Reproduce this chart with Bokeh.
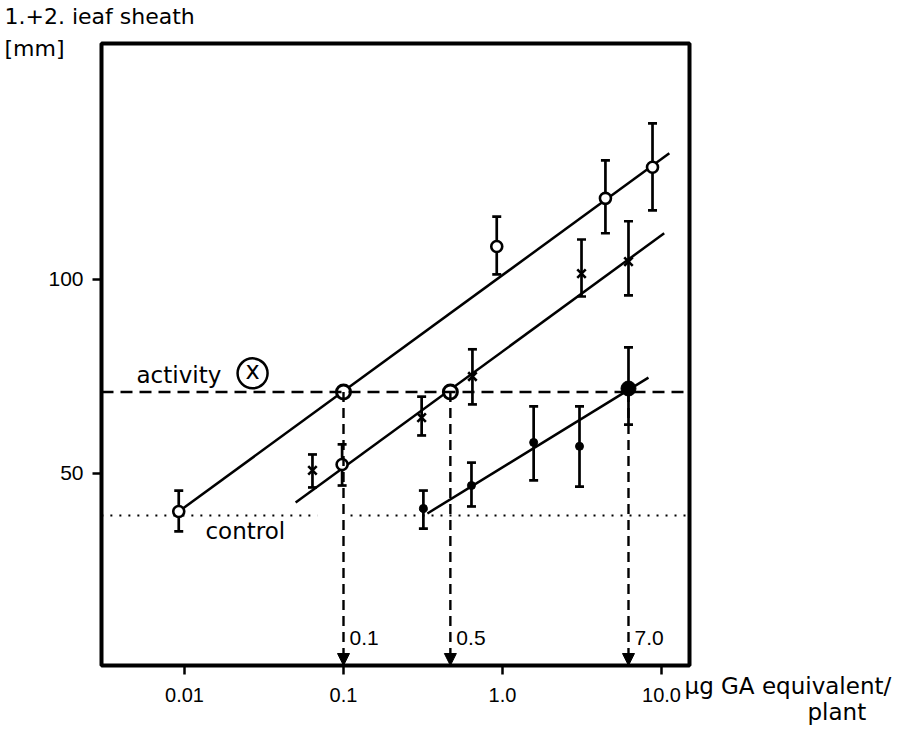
from bokeh.plotting import figure
from bokeh.models import (ColumnDataSource, Whisker, TeeHead, Span, Label, Arrow,
                          NormalHead, FixedTicker, Range1d, Title)
from bokeh.embed import file_html
from bokeh.resources import INLINE

# ---------------- data ----------------
# open circles (upper line, plus one on the middle line)
open_x = [0.0092, 0.098, 0.92, 4.44, 8.78]
open_y = [40.2, 52.3, 108.5, 120.9, 128.9]
open_lo = [35.1, 46.9, 101.3, 111.9, 117.8]
open_hi = [45.6, 57.5, 116.2, 130.7, 140.2]

# crosses (middle line)
cross_x = [0.0638, 0.31, 0.647, 3.14, 6.2]
cross_y = [50.8, 64.4, 75.0, 101.5, 104.6]
cross_lo = [46.4, 59.8, 67.8, 95.6, 95.9]
cross_hi = [54.9, 69.8, 82.0, 110.3, 115.0]

# filled dots (lower line)
dot_x = [0.318, 0.638, 1.57, 3.05]
dot_y = [41.0, 46.9, 58.0, 57.0]
dot_lo = [35.8, 41.5, 48.2, 46.6]
dot_hi = [45.6, 52.8, 67.3, 67.3]
bigdot_x = [6.2]
bigdot_y = [71.9]
bigdot_lo = [62.6]
bigdot_hi = [82.5]

# fitted lines
line_top_x = [0.0092, 11.2]
line_top_y = [40.2, 132.5]
line_mid_x = [0.05, 10.4]
line_mid_y = [42.5, 111.9]
line_low_x = [0.337, 8.28]
line_low_y = [39.7, 74.7]

# reference levels
activity_level = 71.0
control_level = 39.2
control_xs = [[0.003, 0.0686], [0.1107, 15.0]]

# read-offs at activity level
act_x = [0.1, 0.47, 6.2]
act_labels = ["0.1", "0.5", "7.0"]
act_open_x = [0.1, 0.47]

# ticks
x_ticks = [0.01, 0.1, 1, 10]
x_tick_labels = ["0.01", "0.1", "1.0", "10.0"]
y_ticks = [50, 100]

X_START, X_END = 0.003006, 15.0
Y_START, Y_END = 0.52, 160.8

WORD_FONT = "DejaVu Sans"
NUM_FONT = "Liberation Sans"

p = figure(x_axis_type="log",
           x_range=Range1d(X_START, X_END), y_range=Range1d(Y_START, Y_END),
           width=904, height=727,
           min_border_left=101, min_border_right=215,
           min_border_top=43, min_border_bottom=62,
           output_backend="svg", toolbar_location=None)

p.background_fill_color = "white"
p.border_fill_color = "white"
p.outline_line_color = "black"
p.outline_line_width = 4
p.xgrid.grid_line_color = None
p.ygrid.grid_line_color = None

for ax in (p.xaxis, p.yaxis):
    ax.axis_line_color = None
    ax.minor_tick_line_color = None
    ax.major_tick_in = 0
    ax.major_tick_out = 9
    ax.major_tick_line_width = 2.5
    ax.major_tick_line_color = "black"
    ax.major_label_text_font = NUM_FONT
    ax.major_label_text_font_size = "21px"
    ax.major_label_text_color = "black"

p.xaxis.ticker = FixedTicker(ticks=x_ticks)
p.xaxis.major_label_overrides = {t: l for t, l in zip(x_ticks, x_tick_labels)}
p.xaxis.major_label_text_font_size = "20px"
p.xaxis.major_label_standoff = 13
p.yaxis.ticker = FixedTicker(ticks=y_ticks)
p.yaxis.major_label_standoff = 9

# y-axis title (top left, two lines)
p.title.text = "1.+2. ieaf sheath\n[mm]"
p.title.align = "left"
p.title.offset = -97
p.title.vertical_align = "bottom"
p.title.text_font = WORD_FONT
p.title.text_font_size = "22px"
p.title.text_font_style = "normal"
p.title.text_color = "black"
p.title.text_line_height = 1.25
try:
    p.title.standoff = -34
except Exception:
    p.title.standoff = 0

# x-axis unit text (right of the last tick label)
unit_a = Title(text="\u00b5g GA equivalent/", align="left", offset=583, vertical_align="top",
               text_font=WORD_FONT, text_font_size="23px", text_font_style="normal",
               text_color="black")
unit_b = Title(text="plant", align="left", offset=706, vertical_align="top",
               text_font=WORD_FONT, text_font_size="23px", text_font_style="normal",
               text_color="black")
try:
    unit_a.standoff = -64
    unit_b.standoff = -12
except Exception:
    pass
p.add_layout(unit_a, "below")
p.add_layout(unit_b, "below")

# reference lines
p.add_layout(Span(location=activity_level, dimension="width", line_color="black",
                  line_width=2.5, line_dash="12 7"))
p.multi_line(xs=control_xs, ys=[[control_level] * 2] * 2, line_color="black",
             line_width=2, line_dash="2 7")

# fitted lines
for lx, ly in ((line_top_x, line_top_y), (line_mid_x, line_mid_y), (line_low_x, line_low_y)):
    p.line(lx, ly, line_color="black", line_width=2.5)

# drop arrows from activity level to the x axis
arrow_src = ColumnDataSource(dict(x=act_x, ys=[activity_level] * len(act_x),
                                  ye=[Y_START] * len(act_x)))
p.add_layout(Arrow(source=arrow_src, x_start="x", y_start="ys", x_end="x", y_end="ye",
                   line_color="black", line_width=2.4, line_dash="10 6",
                   end=NormalHead(size=12, fill_color="black", line_color="black",
                                  line_width=1)))

# error bars
def whisk(xs, lo, hi):
    src = ColumnDataSource(dict(base=xs, lower=lo, upper=hi))
    w = Whisker(source=src, base="base", lower="lower", upper="upper",
                line_color="black", line_width=2.7,
                upper_head=TeeHead(size=9, line_width=2.7, line_color="black"),
                lower_head=TeeHead(size=9, line_width=2.7, line_color="black"))
    p.add_layout(w)

whisk(open_x, open_lo, open_hi)
whisk(cross_x, cross_lo, cross_hi)
whisk(dot_x, dot_lo, dot_hi)
whisk(bigdot_x, bigdot_lo, bigdot_hi)

# markers
p.scatter(open_x, open_y, marker="circle", size=11, fill_color="white",
          line_color="black", line_width=2.6)
p.scatter(cross_x, cross_y, marker="x", size=12, line_color="black", line_width=2.6)
p.scatter(dot_x, dot_y, marker="circle", size=8, fill_color="black", line_color="black")
p.scatter(bigdot_x, bigdot_y, marker="circle", size=15, fill_color="black", line_color="black")
p.scatter(act_open_x, [activity_level] * len(act_open_x), marker="circle", size=14,
          fill_color="white", line_color="black", line_width=3)

# read-off labels
for xv, lab in zip(act_x, act_labels):
    p.add_layout(Label(x=xv, y=7.5, text=lab, x_offset=6, text_baseline="middle",
                       text_align="left", text_font=NUM_FONT, text_font_size="21px",
                       text_color="black"))

# text annotations inside the frame
p.add_layout(Label(x=0.00499, y=75.3, text="activity", text_baseline="middle",
                   text_font=WORD_FONT, text_font_size="23px", text_color="black"))
p.scatter([0.0268], [75.8], marker="circle", size=30, fill_color=None,
          line_color="black", line_width=2.5)
p.add_layout(Label(x=0.0268, y=76.3, text="x", text_baseline="middle", text_align="center",
                   text_font=WORD_FONT, text_font_size="24px", text_color="black"))
p.add_layout(Label(x=0.01355, y=35.3, text="control", text_baseline="middle",
                   text_font=WORD_FONT, text_font_size="23px", text_color="black"))

open("out.html", "w").write(file_html(p, INLINE))
